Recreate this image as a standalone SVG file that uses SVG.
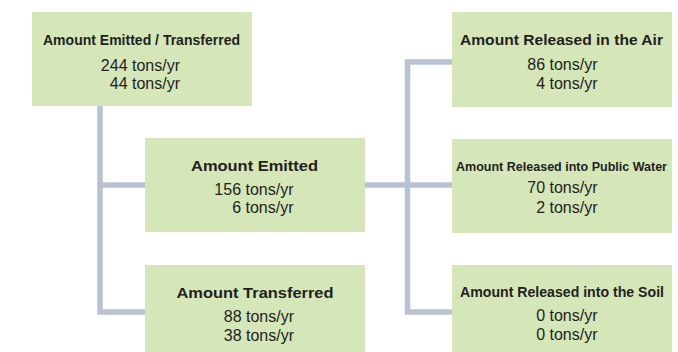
<svg xmlns="http://www.w3.org/2000/svg" width="678" height="352" viewBox="0 0 678 352">
<style>
.box{fill:#d5e6b9;}
.conn{fill:none;stroke:#b9c2d0;stroke-width:5.5;stroke-linejoin:miter;stroke-linecap:butt;}
text{font-family:"Liberation Sans",Arial,sans-serif;fill:#231f20;}
.t{font-weight:bold;font-size:15.5px;text-anchor:middle;}
.n{font-size:16px;text-anchor:end;}
</style>
<rect width="678" height="352" fill="#ffffff"/>
<g id="connectors">
<path class="conn" d="M100,106 V312 H145"/>
<path class="conn" d="M100,185 H145"/>
<path class="conn" d="M452,62 H407.5 V312 H452"/>
<path class="conn" d="M365,185 H452"/>
</g>
<g id="emitted-transferred">
<rect class="box" x="32" y="12" width="220" height="94"/>
<text class="t" x="141.5" y="44.5" textLength="197" lengthAdjust="spacingAndGlyphs">Amount Emitted / Transferred</text>
<text class="n" x="180" y="70.5">244 tons/yr</text>
<text class="n" x="180" y="89">44 tons/yr</text>
</g>
<g id="emitted">
<rect class="box" x="145" y="138" width="220" height="94"/>
<text class="t" x="254.5" y="171" textLength="127" lengthAdjust="spacingAndGlyphs">Amount Emitted</text>
<text class="n" x="293.5" y="194.5">156 tons/yr</text>
<text class="n" x="293.5" y="213">6 tons/yr</text>
</g>
<g id="transferred">
<rect class="box" x="145" y="265" width="220" height="94"/>
<text class="t" x="255" y="298" textLength="157" lengthAdjust="spacingAndGlyphs">Amount Transferred</text>
<text class="n" x="294" y="322">88 tons/yr</text>
<text class="n" x="294" y="341">38 tons/yr</text>
</g>
<g id="air">
<rect class="box" x="452" y="12" width="220" height="95"/>
<text class="t" x="561.5" y="44.5" textLength="203" lengthAdjust="spacingAndGlyphs">Amount Released in the Air</text>
<text class="n" x="597.5" y="70">86 tons/yr</text>
<text class="n" x="597.5" y="89">4 tons/yr</text>
</g>
<g id="water">
<rect class="box" x="452" y="139" width="220" height="94"/>
<text class="t" x="561.5" y="171" textLength="211" lengthAdjust="spacingAndGlyphs" style="font-size:12.8px">Amount Released into Public Water</text>
<text class="n" x="597.5" y="193">70 tons/yr</text>
<text class="n" x="597.5" y="213">2 tons/yr</text>
</g>
<g id="soil">
<rect class="box" x="452" y="265" width="220" height="94"/>
<text class="t" x="562" y="297" textLength="204" lengthAdjust="spacingAndGlyphs" style="font-size:15px">Amount Released into the Soil</text>
<text class="n" x="597.5" y="320.5">0 tons/yr</text>
<text class="n" x="597.5" y="340">0 tons/yr</text>
</g>
</svg>
